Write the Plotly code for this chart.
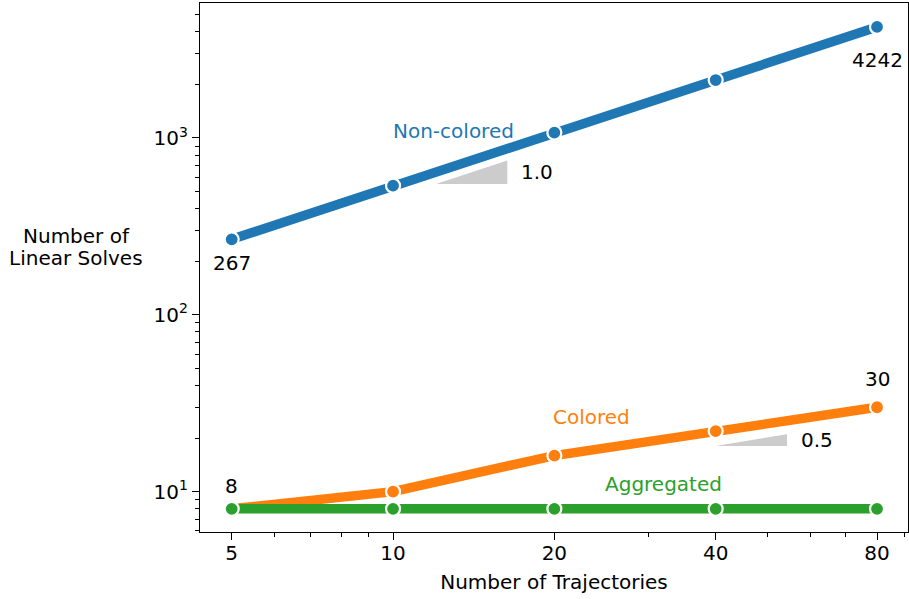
import numpy as np
import plotly.graph_objects as go

# ---- data ----
trajectories = [5, 10, 20, 40, 80]
non_colored = [267, 537, 1072, 2125, 4242]
colored = [8, 10, 16, 22, 30]
aggregated = [8, 8, 8, 8, 8]
series_names = ["Non-colored", "Colored", "Aggregated"]
x_tick_labels = ["5", "10", "20", "40", "80"]
y_tick_values = [10, 100, 1000]
y_tick_labels = ["10<sup>1</sup>", "10<sup>2</sup>", "10<sup>3</sup>"]
y_title_lines = ["Number of", "Linear Solves"]
slopes = [1.0, 0.5]

# ---- style / layout config ----
COLORS = ["#1f77b4", "#ff7f0e", "#2ca02c"]
FONT = "DejaVu Sans"
FS = 20
# slope triangle anchors (x start, x end, base y) per slope
tri_anchor = [(12.03, 16.34, 549.0), (40.0, 54.35, 18.14)]
tri_label_pos = [(18.54, 645.0), (61.7, 19.7)]
name_label_pos = [(12.97, 1090.0), (23.5, 26.3), (32.0, 11.06)]
y_title_pos = [(-0.175, 0.559), (-0.175, 0.518)]

fig = go.Figure()

# slope triangles
for (x0, x1, yb), s in zip(tri_anchor, slopes):
    ytop = yb * (x1 / x0) ** s
    fig.add_trace(go.Scatter(
        x=[x0, x1, x1, x0], y=[yb, yb, ytop, yb], mode="lines",
        fill="toself", fillcolor="#cccccc", line=dict(width=0, color="#cccccc"),
        hoverinfo="skip", showlegend=False))

for name, vals, c in zip(series_names, [non_colored, colored, aggregated], COLORS):
    fig.add_trace(go.Scatter(
        x=trajectories, y=vals, mode="lines+markers", name=name,
        line=dict(color=c, width=9.5),
        marker=dict(size=14, color=c, line=dict(color="white", width=2.2)),
        showlegend=False))

ann = []
# series name labels
for (lx, ly), name, c in zip(name_label_pos, series_names, COLORS):
    ann.append(dict(x=np.log10(lx), y=np.log10(ly), xref="x", yref="y", text=name,
                    showarrow=False, font=dict(family=FONT, size=FS, color=c),
                    xanchor="center", yanchor="middle"))
# slope labels
for (lx, ly), s in zip(tri_label_pos, slopes):
    ann.append(dict(x=np.log10(lx), y=np.log10(ly), xref="x", yref="y", text=f"{s:.1f}",
                    showarrow=False, font=dict(family=FONT, size=FS, color="black"),
                    xanchor="center", yanchor="middle"))
# value labels
value_labels = [
    (trajectories[0], non_colored[0], -24),
    (trajectories[-1], non_colored[-1], -33),
    (trajectories[0], colored[0], 23),
    (trajectories[-1], colored[-1], 28.5),
]
for vx, vy, dy in value_labels:
    ann.append(dict(x=np.log10(vx), y=np.log10(vy), xref="x", yref="y", text=str(vy),
                    showarrow=False, yshift=dy,
                    font=dict(family=FONT, size=FS, color="black"),
                    xanchor="center", yanchor="middle"))
# y-axis title (horizontal, two lines)
for (px, py), line in zip(y_title_pos, y_title_lines):
    ann.append(dict(x=px, y=py, xref="paper", yref="paper",
                    text=line, showarrow=False, align="center",
                    font=dict(family=FONT, size=FS, color="black"),
                    xanchor="center", yanchor="middle"))

x_minor = [m * d for d in (1, 10) for m in range(2, 10)]
x_minor = [v for v in x_minor if v not in trajectories]
y_minor = [m * d for d in (1, 10, 100, 1000) for m in range(2, 10)]

axis_common = dict(showline=True, linecolor="black", linewidth=1.3, mirror=True,
                   showgrid=False, zeroline=False, ticks="outside", ticklen=7,
                   tickwidth=1.3, tickcolor="black",
                   tickfont=dict(family=FONT, size=FS, color="black"))

fig.update_layout(
    width=909, height=599,
    margin=dict(l=200, r=1, t=3, b=67),
    plot_bgcolor="white", paper_bgcolor="white",
    font=dict(family=FONT, size=FS, color="black"),
    annotations=ann,
    xaxis=dict(type="log", range=[0.6398, 1.9609], tickmode="array",
               tickvals=trajectories, ticktext=x_tick_labels,
               ticklabelstandoff=-4,
               minor=dict(tickmode="array", tickvals=x_minor, ticks="outside",
                          ticklen=4, tickwidth=1, tickcolor="black"),
               title=dict(text="Number of Trajectories", standoff=10,
                          font=dict(family=FONT, size=FS, color="black")),
               **axis_common),
    yaxis=dict(type="log", range=[0.7719, 3.7629], tickmode="array",
               tickvals=y_tick_values, ticktext=y_tick_labels,
               minor=dict(tickmode="array", tickvals=y_minor, ticks="outside",
                          ticklen=4, tickwidth=1, tickcolor="black"),
               **axis_common),
)

fig.write_html("out.html", config={"displayModeBar": False},
               post_script="document.body.style.margin='0px';document.body.style.padding='0px';")
